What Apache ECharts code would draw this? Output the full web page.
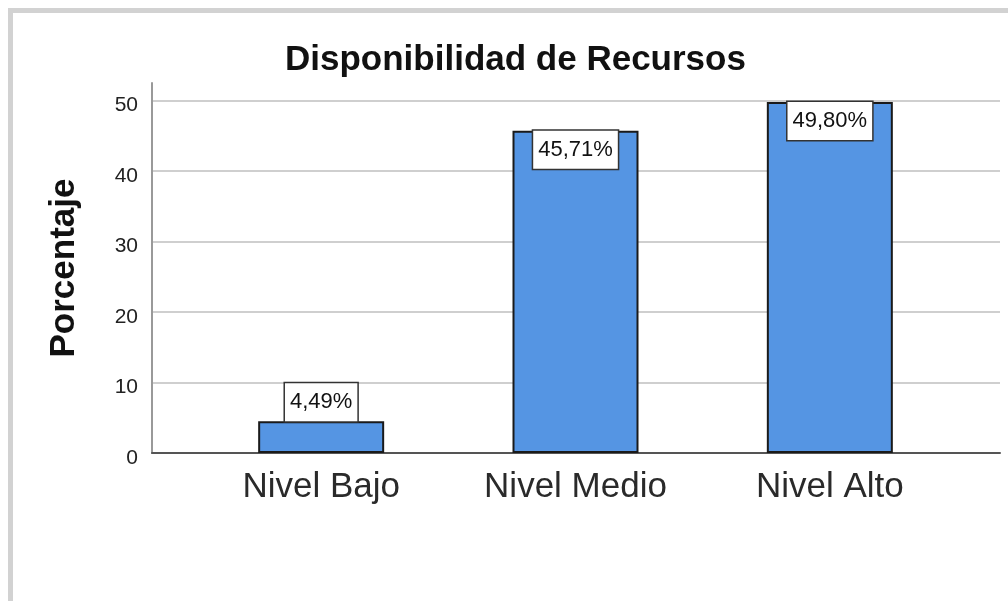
<!DOCTYPE html>
<html>
<head>
<meta charset="utf-8">
<script src="https://cdn.jsdelivr.net/npm/echarts@6/dist/echarts.min.js"></script>
<style>
  html, body { margin: 0; padding: 0; background: #fff; overflow: hidden; }
  #frame {
    position: absolute; left: 8px; top: 8px; width: 1100px; height: 700px;
    border: 5px solid #d2d2d2; pointer-events: none;
  }
  #chart { position: absolute; left: 0; top: 0; width: 1008px; height: 601px; }
</style>
</head>
<body>
<div id="chart"></div>
<div id="frame"></div>
<script>
(function () {
    // datos
    var categorias = ['Nivel Bajo', 'Nivel Medio', 'Nivel Alto'];
    var porcentajes = [4.49, 45.71, 49.80];
    var posEtiqueta = ['top', 'insideTop', 'insideTop'];

    var myChart = echarts.init(document.getElementById('chart'));

    var datos = porcentajes.map(function (v, i) {
        return { value: v, label: { position: posEtiqueta[i] } };
    });

    var option = {
        animation: false,
        title: {
            text: 'Disponibilidad de Recursos',
            left: 280,
            top: 38,
            textStyle: {
                fontFamily: 'Liberation Sans, Arial, sans-serif',
                fontSize: 35,
                fontWeight: 'bold',
                color: '#111'
            }
        },
        grid: [
            { left: 152, right: 8, top: 83, bottom: 148 },
            { left: 194, right: 51, top: 83, bottom: 148 }
        ],
        xAxis: [
            {
                gridIndex: 0,
                type: 'category',
                data: categorias,
                axisLine: { lineStyle: { color: '#555', width: 2 } },
                axisTick: { show: false },
                axisLabel: { show: false }
            },
            {
                gridIndex: 1,
                type: 'category',
                data: categorias,
                axisLine: { show: false },
                axisTick: { show: false },
                axisLabel: {
                    margin: 17,
                    fontFamily: 'Liberation Sans, Arial, sans-serif',
                    fontSize: 35,
                    color: '#2a2a2a'
                }
            }
        ],
        yAxis: [
            {
                gridIndex: 0,
                type: 'value',
                min: 0,
                max: 52.5,
                interval: 10,
                name: 'Porcentaje',
                nameLocation: 'middle',
                nameGap: 70,
                nameTextStyle: {
                    fontFamily: 'Liberation Sans, Arial, sans-serif',
                    fontSize: 35,
                    fontWeight: 'bold',
                    color: '#111'
                },
                axisLine: { show: true, lineStyle: { color: '#999', width: 2 } },
                axisTick: { show: false },
                axisLabel: {
                    margin: 14,
                    showMaxLabel: false,
                    verticalAlign: 'top',
                    lineHeight: 10,
                    fontFamily: 'Liberation Sans, Arial, sans-serif',
                    fontSize: 21,
                    color: '#222'
                },
                splitLine: {
                    showMaxLine: false,
                    lineStyle: { color: '#cfcfcf', width: 2 }
                }
            },
            {
                gridIndex: 1,
                type: 'value',
                min: 0,
                max: 52.5,
                interval: 10,
                show: false,
                splitLine: { show: false }
            }
        ],
        series: [
            {
                type: 'bar',
                xAxisIndex: 1,
                yAxisIndex: 1,
                barWidth: 126,
                data: datos,
                itemStyle: {
                    color: '#5595e3',
                    borderColor: '#1a1a1a',
                    borderWidth: 2
                },
                label: {
                    show: true,
                    distance: 0,
                    formatter: function (p) {
                        return p.value.toFixed(2).replace('.', ',') + '%';
                    },
                    fontFamily: 'Liberation Sans, Arial, sans-serif',
                    fontSize: 22,
                    color: '#111',
                    lineHeight: 26,
                    backgroundColor: '#fff',
                    borderColor: '#333',
                    borderWidth: 1.5,
                    padding: [6, 5]
                }
            }
        ]
    };

    myChart.setOption(option);
    window.addEventListener('resize', function () {
        myChart.resize();
    });
})();
</script>
</body>
</html>
